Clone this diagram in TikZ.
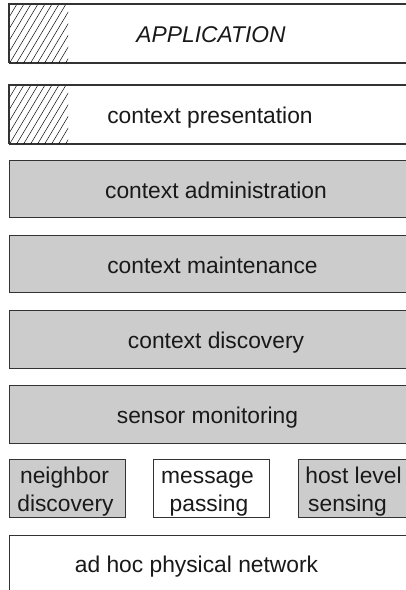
\documentclass[tikz,border=0pt]{standalone}
\usepackage{fontspec}
\setmainfont{Liberation Sans}
\begin{document}
\begin{tikzpicture}[x=1pt,y=-1pt,
  layer/.style={draw=black!80, line width=1.1pt, inner sep=0pt, anchor=north west},
  greylayer/.style={layer, fill=black!20},
  whitelayer/.style={layer, fill=white},
  lbl/.style={font=\fontsize{22.8}{28}\selectfont, inner sep=0pt, anchor=base, text=black!90},
  hatch/.style={draw=black, line width=0.45pt}]
\useasboundingbox (0,0) rectangle (406,590);
\clip (0,0) rectangle (406,590);
% layers
\node[whitelayer, minimum width=411pt, minimum height=58pt] (app) at (9,4) {};
\node[whitelayer, minimum width=411pt, minimum height=58pt] (pres) at (9,85) {};
\node[greylayer, minimum width=411pt, minimum height=57pt] (admin) at (9,160) {};
\node[greylayer, minimum width=411pt, minimum height=57pt] (maint) at (9,235) {};
\node[greylayer, minimum width=411pt, minimum height=58pt] (disc) at (9,310) {};
\node[greylayer, minimum width=411pt, minimum height=58pt] (sens) at (9,385) {};
\node[greylayer, minimum width=116pt, minimum height=58pt] (nbr) at (9,459) {};
\node[whitelayer, minimum width=116pt, minimum height=58pt] (msg) at (153,459) {};
\node[greylayer, minimum width=122pt, minimum height=58pt] (host) at (298,459) {};
\node[whitelayer, minimum width=411pt, minimum height=70pt] (net) at (9,535) {};
% hatching
\begin{scope}
  \clip (9,4) rectangle (68,64);
  \foreach \i in {-40,-33,...,75} \draw[hatch] (\i,64) -- ++(36,-60);
\end{scope}
\begin{scope}
  \clip (9,85) rectangle (68,145);
  \foreach \i in {-40,-33,...,75} \draw[hatch] (\i,145) -- ++(36,-60);
\end{scope}
\draw[draw=black!80, line width=1.1pt] (app.south west) -- (app.north west) -- (app.north east);
\draw[draw=black!80, line width=1.1pt] (app.south west) -- (app.south east);
\draw[draw=black!80, line width=1.1pt] (pres.south west) -- (pres.north west) -- (pres.north east);
\draw[draw=black!80, line width=1.1pt] (pres.south west) -- (pres.south east);
% labels
\node[lbl] (appT) at (211,42) {\textit{APPLICATION}};
\node[lbl] (presT) at (210,123) {context presentation};
\node[lbl] (adminT) at (216,198) {context administration};
\node[lbl] (maintT) at (212.5,273) {context maintenance};
\node[lbl] (discT) at (216,348) {context discovery};
\node[lbl] (sensT) at (207.5,423) {sensor monitoring};
\node[lbl] (nbrA) at (64.5,483) {neighbor};
\node[lbl] (nbrB) at (65.5,511) {discovery};
\node[lbl] (msgA) at (207.5,483) {message};
\node[lbl] (msgB) at (209,511) {passing};
\node[lbl] (hostA) at (353.5,483) {host level};
\node[lbl] (hostB) at (347.5,511) {sensing};
\node[lbl] (netT) at (196.5,572) {ad hoc physical network};
\end{tikzpicture}
\end{document}
